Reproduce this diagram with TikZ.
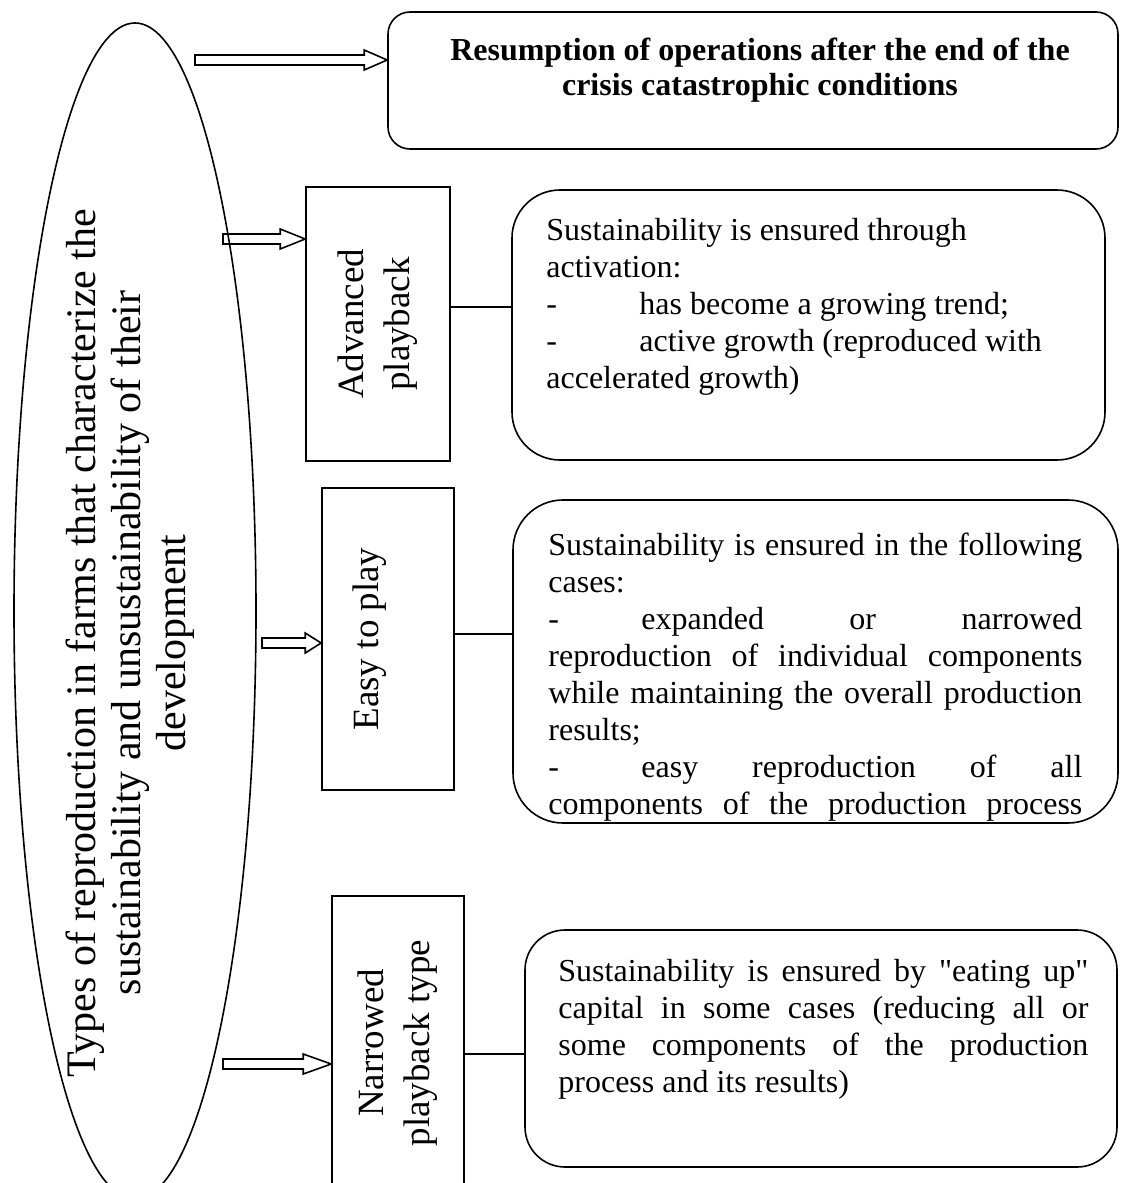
\documentclass[tikz,border=0pt]{standalone}
\usepackage{fontspec}
\setmainfont{Liberation Serif}
\usetikzlibrary{calc,positioning,shapes.geometric}
\newcommand{\normspace}{\spaceskip=0pt\xspaceskip=0pt\relax}
\newcommand{\bodyfont}{\fontsize{16}{18.5}\selectfont}
\newcommand{\headfont}{\fontsize{16}{17.5}\selectfont\bfseries}
\newcommand{\sidefont}{\fontsize{18.5}{23}\selectfont}
\newcommand{\ellfont}{\fontsize{21}{22.5}\selectfont}
\newcommand{\dashtab}{\makebox[46.5pt][l]{-}}
\newcommand{\jline}[2][267pt]{{\spaceskip=.25em plus 1fil\relax\makebox[#1][s]{#2}}}
\tikzset{every node/.append style={execute at begin node=\normspace},
  rbox/.style={draw,line width=0.8pt,inner sep=0pt},
  sidebox/.style={draw,line width=0.8pt,rotate=90,align=center,font=\sidefont,inner sep=0pt},
  bodytxt/.style={anchor=north west,align=left,font=\bodyfont,inner sep=0pt,text width=#1},
  bodytxt/.default=267pt,
  link/.style={line width=0.6pt},
  fatarrow/.style={line width=0.8pt,to path={let \p1=(\tikztostart),\p2=(\tikztotarget) in
    (\x1,\y1+2.5pt) -- (\x2-#1,\y1+2.5pt) -- (\x2-#1,\y1+5pt) -- (\x2,\y1) -- (\x2-#1,\y1-5pt) -- (\x2-#1,\y1-2.5pt) -- (\x1,\y1-2.5pt) -- cycle}},
  fatarrow/.default=12pt}
\begin{document}
\begin{tikzpicture}[x=0.5pt,y=-0.5pt]
\useasboundingbox (0,0) rectangle (1121,1183);
\clip (0,0) rectangle (1121,1183);
% left ellipse
\node[draw,ellipse,line width=0.8pt,minimum width=121pt,minimum height=588pt,inner sep=0pt] (types) at (135,611) {};
\node[rotate=90,align=center,font=\ellfont,inner sep=0pt] (typestxt) at (130,643)
  {Types of reproduction in farms that characterize the\\ sustainability and unsustainability of their\\ development};
% top box
\node[rbox,rounded corners=11pt,minimum width=365pt,minimum height=68.5pt] (resume) at (753,80.5) {};
\node[anchor=north,align=center,font=\headfont,inner sep=0pt] (resumetxt) at (760,38)
  {Resumption of operations after the end of the\\ crisis catastrophic conditions};
% side boxes
\node[sidebox,minimum width=137pt,minimum height=72pt] (adv) at (378,324) {Advanced\\ playback};
\node[sidebox,minimum width=151pt,minimum height=66pt,text height=13pt,text depth=23pt] (easy) at (388,639) {Easy to play};
\node[sidebox,minimum width=147pt,minimum height=66pt] (nar) at (398,1043) {Narrowed\\ playback type};
% condition boxes
\node[rbox,rounded corners=24pt,minimum width=296.5pt,minimum height=135pt] (cond1) at (808.5,325) {};
\node[bodytxt] (cond1txt) at (546,218)
  {Sustainability is ensured through\\
   activation:\\
   \dashtab has become a growing trend;\\
   \dashtab active growth (reproduced with\\
   accelerated growth)};
\node[rbox,rounded corners=25pt,minimum width=302.5pt,minimum height=161.5pt] (cond2) at (815.5,661.5) {};
\node[bodytxt] (cond2txt) at (548,533)
  {\jline{Sustainability is ensured in the following}\\
   cases:\\
   \jline{\dashtab expanded or narrowed}\\
   \jline{reproduction of individual components}\\
   \jline{while maintaining the overall production}\\
   results;\\
   \jline{\dashtab easy reproduction of all}\\
   \jline{components of the production process}};
\node[rbox,rounded corners=20pt,minimum width=296pt,minimum height=118.5pt] (cond3) at (821,1048.5) {};
\node[bodytxt=265pt] (cond3txt) at (558,959)
  {\jline[265pt]{Sustainability is ensured by \textquotedbl eating up\textquotedbl}\\
   \jline[265pt]{capital in some cases (reducing all or}\\
   \jline[265pt]{some components of the production}\\
   process and its results)};
% arrows
\coordinate (a0) at (195,60);
\coordinate (a1) at (223,239);
\coordinate (a2) at (262,643);
\coordinate (a3) at (223,1064);
\draw[fatarrow=11.5pt] (a0) to (a0 -| resume.west);
\draw[fatarrow=12.5pt] (a1) to (a1 -| adv.north);
\draw[fatarrow=8pt] (a2) to (a2 -| easy.north);
\draw[fatarrow=14pt] (a3) to (a3 -| nar.north);
% links
\coordinate (l1) at (0,307);
\coordinate (l2) at (0,634);
\coordinate (l3) at (0,1054);
\draw[link] (adv.south |- l1) -- (cond1.west |- l1);
\draw[link] (easy.south |- l2) -- (cond2.west |- l2);
\draw[link] (nar.south |- l3) -- (cond3.west |- l3);
\end{tikzpicture}
\end{document}
